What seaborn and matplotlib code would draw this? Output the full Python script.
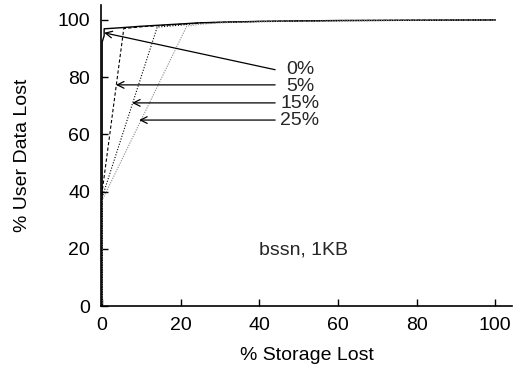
import matplotlib
matplotlib.use("Agg")
import matplotlib.pyplot as plt
import seaborn as sns
import pandas as pd

sns.set_theme(style="ticks")
plt.rcParams['font.family'] = ['Liberation Sans', 'DejaVu Sans']

labels = ["0%", "5%", "15%", "25%"]
x_0 = [0, 0, 0.5, 0.5, 5, 10, 20, 25, 30, 40, 60, 80, 100]
y_0 = [0, 92.3, 94.5, 96.9, 97.3, 97.8, 98.6, 99.0, 99.2, 99.5, 99.8, 99.9, 100]
x_5 = [0, 0, 5.5, 10, 20, 25, 40, 60, 100]
y_5 = [0, 40, 97.0, 97.6, 98.5, 99.0, 99.5, 99.8, 100]
x_15 = [0, 0, 14, 20, 25, 40, 60, 100]
y_15 = [0, 38, 97.5, 98.2, 98.9, 99.4, 99.7, 100]
x_25 = [0, 0, 21.5, 25, 30, 40, 60, 100]
y_25 = [0, 37, 97.8, 98.5, 99.0, 99.4, 99.7, 100]

label_y = [82.6, 76.9, 70.8, 64.8]
arrow_tip_x = [0.5, 3.5, 7.6, 9.4]
arrow_tip_y = [95.5, 77.3, 71, 65]

fig = plt.figure(figsize=(5.14, 3.72), dpi=100)
ax = fig.add_axes([0.1965, 0.1774, 0.80, 0.809])

series = [(x_0, y_0, "-", "black", 1.0),
          (x_5, y_5, (0, (3, 2)), "black", 0.8),
          (x_15, y_15, (0, (1, 1.5)), "black", 0.8),
          (x_25, y_25, (0, (1, 1.2)), "#888888", 0.8)]
for (xs, ys, ls, c, lw), lab in zip(series, labels):
    df = pd.DataFrame({"x": xs, "y": ys})
    sns.lineplot(data=df, x="x", y="y", sort=False, estimator=None,
                 color=c, linewidth=lw, linestyle=ls, ax=ax)

for lab, ly, tx, ty in zip(labels, label_y, arrow_tip_x, arrow_tip_y):
    ax.annotate("", xy=(tx, ty), xytext=(44, ly if lab == "0%" else ty),
                arrowprops=dict(arrowstyle="->", color="black", lw=0.9,
                                shrinkA=0, shrinkB=0))
    ax.text(50.3, ly, lab, ha="center", va="center", fontsize=14)

ax.text(51.3, 19.6, "bssn, 1KB", ha="center", va="center", fontsize=14)

ax.set_xlim(-0.3, 104.3)
ax.set_ylim(0, 105.2)
ax.set_xticks([0, 20, 40, 60, 80, 100])
ax.set_yticks([0, 20, 40, 60, 80, 100])
ax.tick_params(direction="in", length=5, width=1, labelsize=14, colors="black", pad=8)
for s in ["top", "right"]:
    ax.spines[s].set_visible(False)
for s in ["left", "bottom"]:
    ax.spines[s].set_color("black")
    ax.spines[s].set_linewidth(1.2)
ax.set_xlabel("% Storage Lost", fontsize=14, color="black", labelpad=9)
ax.set_ylabel("% User Data Lost", fontsize=14, color="black", labelpad=19)
ax.set_facecolor("white")

fig.savefig("out.png", dpi=100, facecolor="white")
